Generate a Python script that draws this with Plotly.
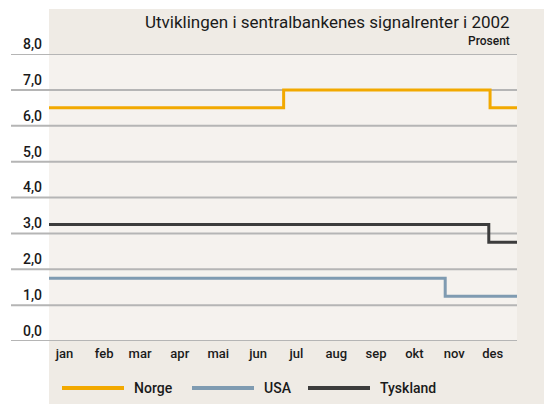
import plotly.graph_objects as go

# ---- data ----
series_names = ["Norge", "USA", "Tyskland"]
norge_dates = ["2002-01-01", "2002-07-03", "2002-12-11", "2003-01-01"]
norge_vals = [6.5, 7.0, 6.5, 6.5]
usa_dates = ["2002-01-01", "2002-11-06", "2003-01-01"]
usa_vals = [1.75, 1.25, 1.25]
tysk_dates = ["2002-01-01", "2002-12-10", "2003-01-01"]
tysk_vals = [3.25, 2.75, 2.75]
month_labels = ["jan", "feb", "mar", "apr", "mai", "jun", "jul", "aug", "sep", "okt", "nov", "des"]
month_ticks = ["2002-%02d-13" % m for m in range(1, 13)]
y_ticks = [0, 1, 2, 3, 4, 5, 6, 7, 8]
y_labels = ["0,0", "1,0", "2,0", "3,0", "4,0", "5,0", "6,0", "7,0", "8,0"]
title_text = "Utviklingen i sentralbankenes signalrenter i 2002"
unit_text = "Prosent"

# ---- style ----
colors = ["#F2A900", "#7F9BB1", "#3C3C3C"]
OFF = 8  # page body margin
W, H = 552, 404
# plot area in screen pixels: x 49..517, y 54..341
L, R, T, B = 49 - OFF, W - (517 - OFF), 54 - OFF, H - (341 - OFF)
PW, PH = W - L - R, H - T - B
FONT = "Roboto"
TXT = "#1A1A1A"


def px2x(px):
    return (px - OFF - L) / PW


def px2y(py):
    return (H - B - (py - OFF)) / PH


fig = go.Figure()
for name, xs, ys, c in zip(series_names, [norge_dates, usa_dates, tysk_dates],
                           [norge_vals, usa_vals, tysk_vals], colors):
    fig.add_trace(go.Scatter(x=xs, y=ys, mode="lines", name=name,
                             line=dict(color=c, width=3, shape="hv"),
                             showlegend=False, hoverinfo="x+y+name"))

shapes = [
    dict(type="rect", xref="paper", yref="paper", x0=0, x1=px2x(W + OFF), y0=px2y(H + OFF), y1=px2y(9),
         fillcolor="#EFEBE5", line_width=0, layer="below"),
    dict(type="rect", xref="paper", yref="paper", x0=0, x1=1, y0=0, y1=1,
         fillcolor="#F5F2EE", line_width=0, layer="below"),
]
for v in y_ticks:
    shapes.append(dict(type="line", xref="paper", yref="y", x0=px2x(11), x1=1, y0=v, y1=v,
                       line=dict(color="#B5B5B5", width=2), layer="below"))

annotations = [
    dict(text=title_text, xref="paper", yref="paper", x=px2x(512), y=px2y(22),
         xanchor="right", yanchor="middle", showarrow=False,
         font=dict(family=FONT, size=17, color=TXT, weight=400)),
    dict(text=unit_text, xref="paper", yref="paper", x=px2x(512), y=px2y(41),
         xanchor="right", yanchor="middle", showarrow=False,
         font=dict(family=FONT, size=12, color=TXT, weight=500)),
]
leg_starts = [62, 192, 308]
for name, c, x0 in zip(series_names, colors, leg_starts):
    shapes.append(dict(type="line", xref="paper", yref="paper", x0=px2x(x0), x1=px2x(x0 + 62),
                       y0=px2y(388), y1=px2y(388), line=dict(color=c, width=4)))
    annotations.append(dict(text=name, xref="paper", yref="paper", x=px2x(x0 + 70), y=px2y(388),
                            xanchor="left", yanchor="middle", showarrow=False,
                            font=dict(family=FONT, size=14, color=TXT, weight=500)))

fig.update_layout(
    width=W, height=H,
    margin=dict(l=L, r=R, t=T, b=B, pad=0, autoexpand=False),
    paper_bgcolor="white", plot_bgcolor="#F5F2EE",
    shapes=shapes, annotations=annotations,
    showlegend=False,
    xaxis=dict(type="date", range=["2002-01-01", "2003-01-01"], tickvals=month_ticks,
               ticktext=month_labels, showgrid=False, zeroline=False, ticks="",
               showline=False, fixedrange=True, automargin=False, ticklabelstandoff=3,
               tickfont=dict(family=FONT, size=13, color=TXT, weight=500)),
    yaxis=dict(range=[0, 8], tickvals=y_ticks, ticktext=y_labels, showgrid=False,
               zeroline=False, ticks="", showline=False, fixedrange=True, automargin=False,
               ticklabelshift=-10, ticklabelstandoff=6,
               tickfont=dict(family=FONT, size=14, color=TXT, weight=500)),
)

fig.write_html("out.html")
